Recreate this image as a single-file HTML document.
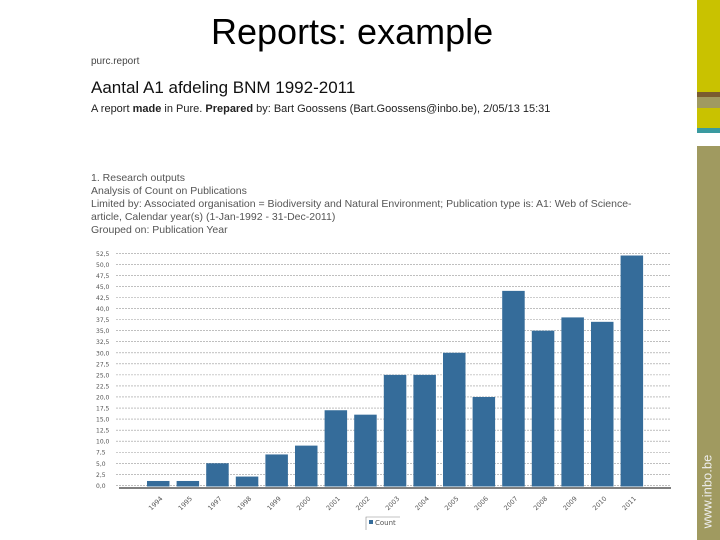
<!DOCTYPE html>
<html><head><meta charset="utf-8"><style>
body{margin:0;width:720px;height:540px;overflow:hidden;background:#fff;font-family:"Liberation Sans",sans-serif;position:relative}
.t{position:absolute;white-space:nowrap}
</style></head><body>
<div class="t" style="left:211px;top:11px;font-size:36px;color:#000">Reports: example</div>
<div class="t" style="left:91px;top:56px;font-size:10px;color:#444">purc.report</div>
<div class="t" style="left:91px;top:78px;font-size:17px;color:#111">Aantal A1 afdeling BNM 1992-2011</div>
<div class="t" style="left:91px;top:103px;font-size:11px;color:#222">A report <b>made</b> in Pure. <b>Prepared</b> by: Bart Goossens (Bart.Goossens@inbo.be), 2/05/13 15:31</div>
<div class="t" style="left:91px;top:172px;font-size:10.5px;line-height:13px;color:#555">1. Research outputs<br>Analysis of Count on Publications<br>Limited by: Associated organisation = Biodiversity and Natural Environment; Publication type is: A1: Web of Science-<br>article, Calendar year(s) (1-Jan-1992 - 31-Dec-2011)<br>Grouped on: Publication Year</div>
<div style="position:absolute;left:697px;top:0;width:23px;height:540px;background:#a09a60">
<div style="position:absolute;top:0;width:23px;height:92px;background:#c9c200"></div>
<div style="position:absolute;top:92px;width:23px;height:5px;background:#7a5c30"></div>
<div style="position:absolute;top:108px;width:23px;height:20px;background:#c9c200"></div>
<div style="position:absolute;top:128px;width:23px;height:5px;background:#3a9aa0"></div>
<div style="position:absolute;top:133px;width:23px;height:13px;background:#fff"></div>
<div class="t" style="left:-30px;top:484px;transform:rotate(-90deg);font-size:13px;color:#eee;width:80px;text-align:center">www.inbo.be</div>
</div>
<svg id="chart" width="720" height="540" style="position:absolute;left:0;top:0"></svg>
<script>
const categories=["1994","1995","1997","1998","1999","2000","2001","2002","2003","2004","2005","2006","2007","2008","2009","2010","2011"];
const counts=[1,1,5,2,7,9,17,16,25,25,30,20,44,35,38,37,52];
const ticks=["0,0","2,5","5,0","7,5","10,0","12,5","15,0","17,5","20,0","22,5","25,0","27,5","30,0","32,5","35,0","37,5","40,0","42,5","45,0","47,5","50,0","52,5"];
const NS="http://www.w3.org/2000/svg";
const svg=document.getElementById('chart');
const y0=485.4,pxPer=(485.4-253.3)/52.5;
const y=v=>y0-v*pxPer;
const x=i=>147+i*29.6;
function mk(t,a){const e=document.createElementNS(NS,t);for(const k in a)e.setAttribute(k,a[k]);svg.appendChild(e);return e;}
ticks.forEach((lab,i)=>{const v=i*2.5;
const g=mk('line',{x1:116,x2:671,y1:y(v),y2:y(v),stroke:'#999','stroke-width':0.6,'stroke-dasharray':'2,1'});


const t=mk('text',{x:96,y:y(v)+2.5,'font-size':6,fill:'#555','font-family':'DejaVu Sans, sans-serif'});t.textContent=lab;


});
counts.forEach((c,i)=>{
const r=mk('rect',{x:x(i),y:y(c),width:22.5,height:486.5-y(c),fill:'#356c9a'});


const t=mk('text',{x:x(i)+16,y:499,'font-size':6.5,fill:'#555','text-anchor':'end','font-family':'DejaVu Sans, sans-serif',transform:`rotate(-45 ${x(i)+16} 499)`});t.textContent=categories[i];


});
const ax=mk('line',{x1:119,x2:671,y1:488,y2:488,stroke:'#000','stroke-width':1});


const lg=mk('path',{d:'M366 530 V517 H400',fill:'none',stroke:'#888','stroke-width':0.6});


const ls=mk('rect',{x:369,y:520,width:4,height:4,fill:'#356c9a'});


const lt=mk('text',{x:375,y:525,'font-size':7,fill:'#555','font-family':'DejaVu Sans, sans-serif'});lt.textContent='Count';


</script>
</body></html>
